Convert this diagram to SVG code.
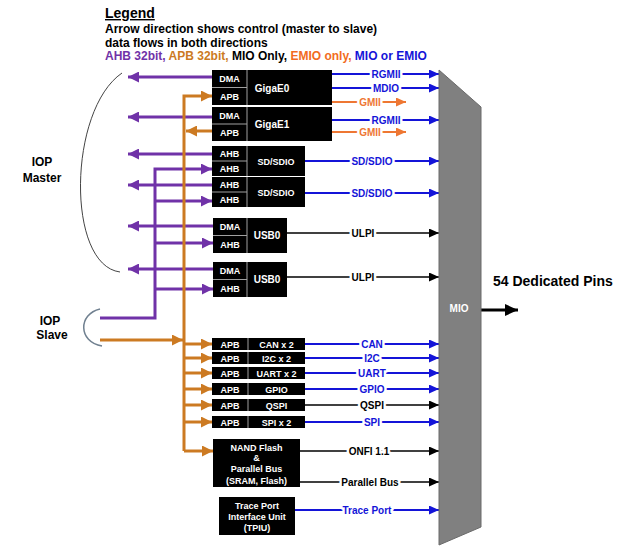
<svg xmlns="http://www.w3.org/2000/svg" width="624" height="547" viewBox="0 0 624 547">
<style>
text { font-family: "Liberation Sans", Arial, sans-serif; font-weight: bold; }
.blk { fill: #000; }
.div { stroke: #a0a0a0; stroke-width: 1; fill: none; }
.w { fill: #fff; font-size: 9px; text-anchor: middle; }
.wl { fill: #fff; font-size: 10px; text-anchor: middle; }
.lbl { font-size: 10px; text-anchor: middle; paint-order: stroke; stroke: #fff; stroke-width: 5px; stroke-linejoin: round; }
.blue { stroke: #1414d8; stroke-width: 2; fill: none; marker-end: url(#ab); }
.emio { stroke: #ee7733; stroke-width: 2; fill: none; marker-end: url(#ae); }
.blk-l { stroke: #000; stroke-width: 1.5; fill: none; marker-end: url(#ak); }
.pur { stroke: #7032a8; stroke-width: 3; fill: none; }
.org { stroke: #cc7a22; stroke-width: 3; fill: none; }
.pa { marker-end: url(#ap); }
.oa { marker-end: url(#ao); }
</style>
<defs>
<marker id="ab" markerUnits="userSpaceOnUse" markerWidth="10" markerHeight="9" refX="10" refY="4.5" orient="auto"><path d="M0,0 L10,4.5 L0,9 z" fill="#1414d8"/></marker>
<marker id="ae" markerUnits="userSpaceOnUse" markerWidth="10" markerHeight="9" refX="10" refY="4.5" orient="auto"><path d="M0,0 L10,4.5 L0,9 z" fill="#ee7733"/></marker>
<marker id="ak" markerUnits="userSpaceOnUse" markerWidth="10" markerHeight="9" refX="10" refY="4.5" orient="auto"><path d="M0,0 L10,4.5 L0,9 z" fill="#000"/></marker>
<marker id="ap" markerUnits="userSpaceOnUse" markerWidth="11" markerHeight="11" refX="11" refY="5.5" orient="auto"><path d="M0,0 L11,5.5 L0,11 z" fill="#7032a8"/></marker>
<marker id="ao" markerUnits="userSpaceOnUse" markerWidth="11" markerHeight="11" refX="11" refY="5.5" orient="auto"><path d="M0,0 L11,5.5 L0,11 z" fill="#cc7a22"/></marker>
<marker id="am" markerUnits="userSpaceOnUse" markerWidth="13" markerHeight="12" refX="13" refY="6" orient="auto"><path d="M0,0 L13,6 L0,12 z" fill="#000"/></marker>
</defs>

<g id="legend">
<text x="105" y="18" font-size="14" text-decoration="underline">Legend</text>
<text x="105" y="33" font-size="12">Arrow direction shows control (master to slave)</text>
<text x="105" y="47" font-size="12">data flows in both directions</text>
<text x="105" y="60" font-size="12"><tspan fill="#7032a8">AHB 32bit,</tspan><tspan fill="#cc7a22"> APB 32bit,</tspan><tspan fill="#000"> MIO Only,</tspan><tspan fill="#f26c22"> EMIO only,</tspan><tspan fill="#1414d8"> MIO or EMIO</tspan></text>
</g>

<g id="iop-master">
<path d="M122,73 C68,110 66,265 120,272" fill="none" stroke="#444" stroke-width="1"/>
<text x="42" y="166" font-size="12" text-anchor="middle">IOP</text>
<text x="42" y="182" font-size="12" text-anchor="middle">Master</text>
</g>
<g id="iop-slave">
<path d="M100,309 C78,314 78,342 102,346" fill="none" stroke="#708090" stroke-width="1.5"/>
<text x="50" y="325" font-size="12" text-anchor="middle">IOP</text>
<text x="52" y="339" font-size="12" text-anchor="middle">Slave</text>
</g>

<g id="connectors">
<line class="pur pa" x1="212" y1="77" x2="128" y2="77"/>
<line class="pur pa" x1="212" y1="117" x2="128" y2="117"/>
<line class="pur pa" x1="212" y1="154" x2="128" y2="154"/>
<line class="pur pa" x1="212" y1="185" x2="128" y2="185"/>
<line class="pur pa" x1="213" y1="226" x2="128" y2="226"/>
<line class="pur pa" x1="213" y1="269" x2="128" y2="269"/>
<path class="pur pa" d="M100,318 L155,318 L155,169 L212,169"/>
<line class="pur pa" x1="155" y1="201" x2="212" y2="201"/>
<line class="pur pa" x1="155" y1="243" x2="213" y2="243"/>
<line class="pur pa" x1="155" y1="289" x2="213" y2="289"/>
<path class="org oa" d="M184,451 L184,96 L212,96"/>
<line class="org oa" x1="184" y1="451" x2="213" y2="451"/>
<line class="org oa" x1="212" y1="131" x2="186" y2="131"/>
<line class="org oa" x1="100" y1="340" x2="183" y2="340"/>
<line class="org oa" x1="184" y1="344" x2="212" y2="344"/>
<line class="org oa" x1="184" y1="358" x2="212" y2="358"/>
<line class="org oa" x1="184" y1="373" x2="212" y2="373"/>
<line class="org oa" x1="184" y1="389" x2="212" y2="389"/>
<line class="org oa" x1="184" y1="405" x2="212" y2="405"/>
<line class="org oa" x1="184" y1="422" x2="212" y2="422"/>
<line class="blue" x1="332" y1="74" x2="439" y2="74"/>
<line class="blue" x1="332" y1="88" x2="439" y2="88"/>
<line class="emio" x1="332" y1="102" x2="406" y2="102"/>
<line class="blue" x1="332" y1="120" x2="439" y2="120"/>
<line class="emio" x1="332" y1="132" x2="406" y2="132"/>
<line class="blue" x1="305" y1="161" x2="439" y2="161"/>
<line class="blue" x1="305" y1="193" x2="439" y2="193"/>
<line class="blk-l" x1="287" y1="233" x2="439" y2="233"/>
<line class="blk-l" x1="287" y1="277" x2="439" y2="277"/>
<line class="blue" x1="305" y1="344" x2="439" y2="344"/>
<line class="blue" x1="305" y1="358" x2="439" y2="358"/>
<line class="blue" x1="305" y1="373" x2="439" y2="373"/>
<line class="blue" x1="305" y1="389" x2="439" y2="389"/>
<line class="blk-l" x1="305" y1="405" x2="439" y2="405"/>
<line class="blue" x1="305" y1="422" x2="439" y2="422"/>
<line class="blk-l" x1="300" y1="451" x2="439" y2="451"/>
<line class="blk-l" x1="300" y1="482" x2="439" y2="482"/>
<line class="blue" x1="295" y1="510" x2="439" y2="510"/>
<line x1="481" y1="310" x2="518" y2="310" stroke="#000" stroke-width="3" marker-end="url(#am)"/>
<text class="lbl" x="386" y="77.5" fill="#1414d8">RGMII</text>
<text class="lbl" x="386" y="91.5" fill="#1414d8">MDIO</text>
<text class="lbl" x="370" y="105.5" fill="#ee7733">GMII</text>
<text class="lbl" x="386" y="123.5" fill="#1414d8">RGMII</text>
<text class="lbl" x="370" y="135.5" fill="#ee7733">GMII</text>
<text class="lbl" x="372" y="164.5" fill="#1414d8">SD/SDIO</text>
<text class="lbl" x="372" y="196.5" fill="#1414d8">SD/SDIO</text>
<text class="lbl" x="363" y="236.5" fill="#000">ULPI</text>
<text class="lbl" x="363" y="280.5" fill="#000">ULPI</text>
<text class="lbl" x="372" y="347.5" fill="#1414d8">CAN</text>
<text class="lbl" x="372" y="361.5" fill="#1414d8">I2C</text>
<text class="lbl" x="372" y="376.5" fill="#1414d8">UART</text>
<text class="lbl" x="372" y="392.5" fill="#1414d8">GPIO</text>
<text class="lbl" x="372" y="408.5" fill="#000">QSPI</text>
<text class="lbl" x="372" y="425.5" fill="#1414d8">SPI</text>
<text class="lbl" x="369" y="454.5" fill="#000">ONFI 1.1</text>
<text class="lbl" x="370" y="485.5" fill="#000">Parallel Bus</text>
<text class="lbl" x="367" y="513.5" fill="#1414d8">Trace Port</text>
</g>

<g id="gigae0">
<rect class="blk" x="212" y="70" width="120" height="35"/>
<path class="div" d="M247,70 V105 M212,87.5 H247"/>
<text class="w" x="229.5" y="82">DMA</text>
<text class="w" x="229.5" y="100">APB</text>
<text class="wl" x="272" y="91.5">GigaE0</text>
</g>
<g id="gigae1">
<rect class="blk" x="212" y="107" width="120" height="34"/>
<path class="div" d="M247,107 V141 M212,124 H247"/>
<text class="w" x="229.5" y="119">DMA</text>
<text class="w" x="229.5" y="136">APB</text>
<text class="wl" x="272" y="128">GigaE1</text>
</g>
<g id="sdio0">
<rect class="blk" x="212" y="146" width="93" height="30"/>
<path class="div" d="M247,146 V176 M212,161 H247"/>
<text class="w" x="229.5" y="157">AHB</text>
<text class="w" x="229.5" y="172">AHB</text>
<text class="w" x="276" y="164.5">SD/SDIO</text>
</g>
<g id="sdio1">
<rect class="blk" x="212" y="177" width="93" height="30"/>
<path class="div" d="M247,177 V207 M212,192 H247"/>
<text class="w" x="229.5" y="188">AHB</text>
<text class="w" x="229.5" y="203">AHB</text>
<text class="w" x="276" y="195.5">SD/SDIO</text>
</g>
<g id="usb0a">
<rect class="blk" x="213" y="218" width="74" height="35"/>
<path class="div" d="M247,218 V253 M213,235.5 H247"/>
<text class="w" x="230" y="230">DMA</text>
<text class="w" x="230" y="248">AHB</text>
<text class="wl" x="267" y="239">USB0</text>
</g>
<g id="usb0b">
<rect class="blk" x="213" y="262" width="74" height="35"/>
<path class="div" d="M247,262 V297 M213,279.5 H247"/>
<text class="w" x="230" y="274">DMA</text>
<text class="w" x="230" y="292">AHB</text>
<text class="wl" x="267" y="283">USB0</text>
</g>
<g id="can">
<rect class="blk" x="212" y="338" width="93" height="12"/>
<path class="div" d="M248,338 V350"/>
<text class="w" x="230" y="347.5">APB</text>
<text class="w" x="276.5" y="347.5">CAN x 2</text>
</g>
<g id="i2c">
<rect class="blk" x="212" y="352" width="93" height="12"/>
<path class="div" d="M248,352 V364"/>
<text class="w" x="230" y="361.5">APB</text>
<text class="w" x="276.5" y="361.5">I2C x 2</text>
</g>
<g id="uart">
<rect class="blk" x="212" y="367" width="93" height="12"/>
<path class="div" d="M248,367 V379"/>
<text class="w" x="230" y="376.5">APB</text>
<text class="w" x="276.5" y="376.5">UART x 2</text>
</g>
<g id="gpio">
<rect class="blk" x="212" y="383" width="93" height="12"/>
<path class="div" d="M248,383 V395"/>
<text class="w" x="230" y="392.5">APB</text>
<text class="w" x="276.5" y="392.5">GPIO</text>
</g>
<g id="qspi">
<rect class="blk" x="212" y="399" width="93" height="12"/>
<path class="div" d="M248,399 V411"/>
<text class="w" x="230" y="408.5">APB</text>
<text class="w" x="276.5" y="408.5">QSPI</text>
</g>
<g id="spi">
<rect class="blk" x="212" y="416" width="93" height="12"/>
<path class="div" d="M248,416 V428"/>
<text class="w" x="230" y="425.5">APB</text>
<text class="w" x="276.5" y="425.5">SPI x 2</text>
</g>
<g id="nand">
<rect class="blk" x="213" y="439" width="87" height="48"/>
<text class="w" x="256.5" y="451">NAND Flash</text>
<text class="w" x="256.5" y="461">&amp;</text>
<text class="w" x="256.5" y="472">Parallel Bus</text>
<text class="w" x="256.5" y="484">(SRAM, Flash)</text>
</g>
<g id="tpiu">
<rect class="blk" x="219" y="497" width="76" height="38"/>
<text class="w" x="257" y="509">Trace Port</text>
<text class="w" x="257" y="520">Interface Unit</text>
<text class="w" x="257" y="531">(TPIU)</text>
</g>
<g id="mio">
<polygon points="439,70 481,107 481,527 439,545" fill="#808080" stroke="#6a6a6a" stroke-width="1"/>
<text x="459" y="312" font-size="10" fill="#fff" text-anchor="middle">MIO</text>
</g>
<g id="pins">
<text x="493" y="286" font-size="14">54 Dedicated Pins</text>
</g>
</svg>
